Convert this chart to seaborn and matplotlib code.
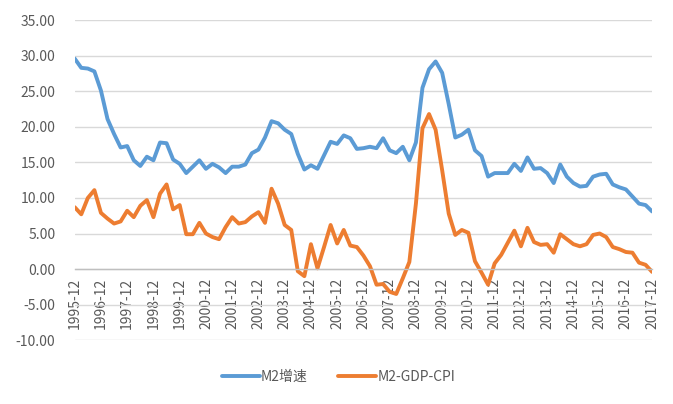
import numpy as np
import pandas as pd
import matplotlib
matplotlib.use("Agg")
import matplotlib.pyplot as plt
import seaborn as sns

# quarterly labels, 1995-12 .. 2017-12
quarters = [f"{y}-{m:02d}" for y in range(1995, 2018) for m in (3, 6, 9, 12)]
quarters = quarters[3:]  # start at 1995-12

m2_growth = [29.6, 28.3, 28.2, 27.8, 25.1, 21.1, 19.0, 17.1, 17.3, 15.3,
             14.5, 15.8, 15.3, 17.8, 17.7, 15.4, 14.8, 13.5, 14.4, 15.3,
             14.1, 14.8, 14.3, 13.5, 14.4, 14.4, 14.7, 16.3, 16.8, 18.5,
             20.8, 20.5, 19.6, 19.0, 16.2, 14.0, 14.6, 14.1, 16.0, 17.9,
             17.6, 18.8, 18.4, 16.9, 17.0, 17.2, 17.0, 18.4, 16.7, 16.3,
             17.2, 15.3, 17.8, 25.5, 28.1, 29.2, 27.6, 23.2, 18.5, 18.9,
             19.6, 16.7, 15.9, 13.0, 13.5, 13.5, 13.5, 14.8, 13.8, 15.7,
             14.1, 14.2, 13.5, 12.1, 14.7, 13.0, 12.1, 11.6, 11.7, 13.0,
             13.3, 13.4, 11.9, 11.5, 11.2, 10.2, 9.2, 9.0, 8.1]

m2_gdp_cpi = [8.7, 7.7, 10.0, 11.1, 7.9, 7.1, 6.4, 6.7, 8.2, 7.3,
              8.9, 9.7, 7.3, 10.6, 11.9, 8.4, 9.0, 4.9, 4.9, 6.5,
              5.0, 4.5, 4.2, 5.9, 7.3, 6.4, 6.6, 7.4, 8.0, 6.5,
              11.3, 9.2, 6.2, 5.5, -0.3, -1.0, 3.5, 0.1, 3.1, 6.2,
              3.6, 5.5, 3.3, 3.1, 1.9, 0.4, -2.2, -2.1, -3.2, -3.5,
              -1.3, 1.0, 9.2, 19.8, 21.8, 19.6, 13.9, 7.8, 4.8, 5.5,
              5.1, 1.1, -0.5, -2.2, 0.8, 2.0, 3.7, 5.4, 3.2, 5.8,
              3.8, 3.4, 3.5, 2.3, 4.9, 4.2, 3.5, 3.2, 3.5, 4.8,
              5.0, 4.5, 3.1, 2.8, 2.4, 2.3, 0.9, 0.6, -0.4]

series_names = ["M2增速", "M2-GDP-CPI"]
colors = {"M2增速": "#5B9BD5", "M2-GDP-CPI": "#ED7D31"}

idx = np.arange(len(quarters))
df = pd.concat([
    pd.DataFrame({"idx": idx, "value": m2_growth, "series": series_names[0]}),
    pd.DataFrame({"idx": idx, "value": m2_gdp_cpi, "series": series_names[1]}),
])

sns.set_theme(style="white")
plt.rcParams["font.family"] = ["Noto Sans CJK SC", "DejaVu Sans"]

fig = plt.figure(figsize=(6.73, 4.04), dpi=100)
ax = fig.add_axes([0.111, 0.158, 0.858, 0.792])

sns.lineplot(data=df, x="idx", y="value", hue="series", palette=colors,
             hue_order=series_names, linewidth=2.8, ax=ax, legend=True)

# spine position first - it resets the tick objects
for s in ["top", "right", "left"]:
    ax.spines[s].set_visible(False)
ax.spines["bottom"].set_position(("data", 0))
ax.spines["bottom"].set_color("#BFBFBF")
ax.spines["bottom"].set_linewidth(1)

ax.set_xlim(0, len(quarters) - 1)
ax.set_ylim(-10, 35)
ax.set_yticks(np.arange(-10, 36, 5))
ax.set_yticklabels([f"{v:.2f}" for v in np.arange(-10, 36, 5)])
ax.yaxis.grid(True, color="#D9D9D9", linewidth=1)
ax.xaxis.grid(False)
ax.set_axisbelow(True)

tick_pos = idx[::4]
ax.set_xticks(tick_pos)
ax.set_xticklabels([quarters[i] for i in tick_pos])

ax.tick_params(axis="x", direction="out", length=4, width=1, color="#BFBFBF",
               labelsize=10, labelcolor="#595959", pad=2, labelrotation=90)
ax.tick_params(axis="y", length=0, labelsize=10, labelcolor="#595959", pad=14)
ax.set_xlabel("")
ax.set_ylabel("")

handles, labels = ax.get_legend_handles_labels()
ax.legend_.remove()
fig.legend(handles, labels, loc="center", bbox_to_anchor=(0.503, 0.068),
           ncol=2, frameon=False, fontsize=10, handlelength=2.7,
           columnspacing=2.2, handletextpad=0.1, labelcolor="#595959")

fig.savefig("out.png", dpi=100)
